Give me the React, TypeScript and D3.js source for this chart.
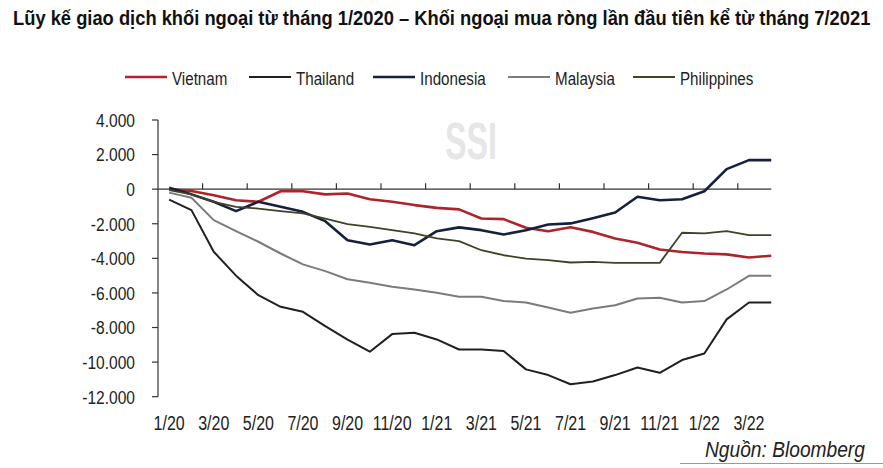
import React, { useLayoutEffect, useRef, useState } from "react";
import * as d3 from "d3";

const months = [
  "1/20","2/20","3/20","4/20","5/20","6/20","7/20","8/20","9/20","10/20","11/20","12/20",
  "1/21","2/21","3/21","4/21","5/21","6/21","7/21","8/21","9/21","10/21","11/21","12/21",
  "1/22","2/22","3/22","4/22",
];
const tickLabels = ["1/20","3/20","5/20","7/20","9/20","11/20","1/21","3/21","5/21","7/21","9/21","11/21","1/22","3/22"];
const yTicks = [4000, 2000, 0, -2000, -4000, -6000, -8000, -10000, -12000];

const vietnam = [0,-100,-350,-640,-730,-120,-120,-300,-250,-580,-730,-920,-1080,-1170,-1700,-1730,-2230,-2430,-2200,-2470,-2850,-3100,-3490,-3630,-3720,-3770,-3950,-3850];
const thailand = [-600,-1210,-3620,-5000,-6130,-6800,-7090,-7920,-8700,-9400,-8380,-8300,-8690,-9270,-9270,-9360,-10420,-10750,-11280,-11120,-10750,-10310,-10620,-9880,-9500,-7530,-6550,-6550];
const indonesia = [80,-300,-730,-1270,-730,-1020,-1310,-1850,-2950,-3200,-2950,-3240,-2430,-2210,-2370,-2620,-2370,-2040,-1980,-1680,-1350,-440,-640,-580,-120,1160,1680,1680];
const malaysia = [-200,-500,-1790,-2430,-3040,-3720,-4350,-4740,-5210,-5410,-5640,-5800,-5990,-6220,-6220,-6470,-6550,-6840,-7140,-6900,-6710,-6320,-6280,-6550,-6470,-5800,-5010,-5010];
const philippines = [-60,-300,-730,-1020,-1120,-1270,-1400,-1700,-2020,-2180,-2370,-2560,-2850,-3000,-3530,-3820,-4010,-4100,-4240,-4200,-4260,-4260,-4260,-2520,-2560,-2430,-2660,-2660];

const seriesNames = ["Vietnam", "Thailand", "Indonesia", "Malaysia", "Philippines"];
const seriesData = [vietnam, thailand, indonesia, malaysia, philippines];
const seriesColors = ["#b0232b", "#202020", "#15203d", "#7b7b7b", "#3f4226"];
const seriesWidths = [2.6, 2, 2.6, 2, 1.8];
const legendX = [125, 249, 373, 508, 633];

const FONT = "'Liberation Sans',Arial,sans-serif";
const SQ = 0.82;

const fmt = (v: number) => {
  if (v === 0) return "0";
  const s = d3.format(",")(v);
  return s.replace(/,/g, ".").replace("−", "-");
};

type NProps = {
  x: number; y: number; size: number; anchor?: string; weight?: string; italic?: boolean; fill?: string; children: React.ReactNode;
};
const NText = ({ x, y, size, anchor = "start", weight = "normal", italic = false, fill = "#222", children }: NProps) => (
  <g transform={`translate(${x},${y}) scale(${SQ},1)`}>
    <text x={0} y={0} fontSize={size} textAnchor={anchor} fontWeight={weight} fontStyle={italic ? "italic" : "normal"} fill={fill}>
      {children}
    </text>
  </g>
);

type FProps = {
  x: number; y: number; size: number; width: number; weight?: string; italic?: boolean; fill?: string; children: React.ReactNode;
};
const FitText = ({ x, y, size, width, weight = "normal", italic = false, fill = "#222", children }: FProps) => {
  const ref = useRef<SVGTextElement>(null);
  const [k, setK] = useState(SQ);
  useLayoutEffect(() => {
    if (ref.current) {
      const len = ref.current.getComputedTextLength();
      if (len > 0) setK(width / len);
    }
  }, [width]);
  return (
    <g transform={`translate(${x},${y}) scale(${k},1)`}>
      <text ref={ref} x={0} y={0} fontSize={size} fontWeight={weight} fontStyle={italic ? "italic" : "normal"} fill={fill}>
        {children}
      </text>
    </g>
  );
};

export default function App() {
  const W = 883, H = 468;
  const x = d3.scaleBand<string>().domain(months).range([158, 158 + 28 * 22.3]).padding(0);
  const bw = x.bandwidth();
  const cx = (m: string) => (x(m) as number) + bw / 2;
  const y = d3.scaleLinear().domain([-12000, 4000]).range([396.7, 120]);
  const line = d3.line<number>().x((_, i) => cx(months[i])).y((d) => y(d));
  const xEnd = cx(months[months.length - 1]);
  const boundaryTicks = months.filter((_, i) => i > 0 && i % 2 === 0).map((m) => x(m) as number);

  return (
    <svg width={W} height={H} style={{ position: "absolute", left: 0, top: 0, background: "#fff" }} fontFamily={FONT}>
      <rect width={W} height={H} fill="#fff" />
      <FitText x={13} y={25} size={20} width={857} weight="bold" fill="#111">
        Lũy kế giao dịch khối ngoại từ tháng 1/2020 – Khối ngoại mua ròng lần đầu tiên kể từ tháng 7/2021
      </FitText>
      {seriesNames.map((n, i) => (
        <g key={n}>
          <line x1={legendX[i]} x2={legendX[i] + 42} y1={77} y2={77} stroke={seriesColors[i]} strokeWidth={seriesWidths[i]} />
          <NText x={legendX[i] + 47} y={84.5} size={18.5}>{n}</NText>
        </g>
      ))}
      <FitText x={445} y={159} size={52} width={52} weight="bold" fill="#e6e6e6">SSI</FitText>
      {/* y axis */}
      <line x1={158} x2={158} y1={y(4000)} y2={y(-12000)} stroke="#333" strokeWidth={1.2} />
      {yTicks.map((t) => (
        <g key={t}>
          <line x1={152} x2={158} y1={y(t)} y2={y(t)} stroke="#333" strokeWidth={1.2} />
          <NText x={135} y={y(t) + 6.8} size={19} anchor="end">{fmt(t)}</NText>
        </g>
      ))}
      {/* x axis at zero */}
      <line x1={158} x2={xEnd} y1={y(0)} y2={y(0)} stroke="#333" strokeWidth={1.2} />
      {boundaryTicks.map((bx, i) => (
        <line key={i} x1={bx} x2={bx} y1={y(0) - 6} y2={y(0)} stroke="#333" strokeWidth={1.2} />
      ))}
      {tickLabels.map((t) => (
        <NText key={t} x={cx(t)} y={430} size={19.5} anchor="middle">{t}</NText>
      ))}
      {seriesData.map((d, i) => (
        <path key={seriesNames[i]} d={line(d) || ""} fill="none" stroke={seriesColors[i]} strokeWidth={seriesWidths[i]} strokeLinejoin="round" />
      ))}
      <FitText x={705} y={456.5} size={22} width={160} italic>Nguồn: Bloomberg</FitText>
      <line x1={680} x2={883} y1={463.5} y2={463.5} stroke="#999" strokeWidth={1} />
    </svg>
  );
}
